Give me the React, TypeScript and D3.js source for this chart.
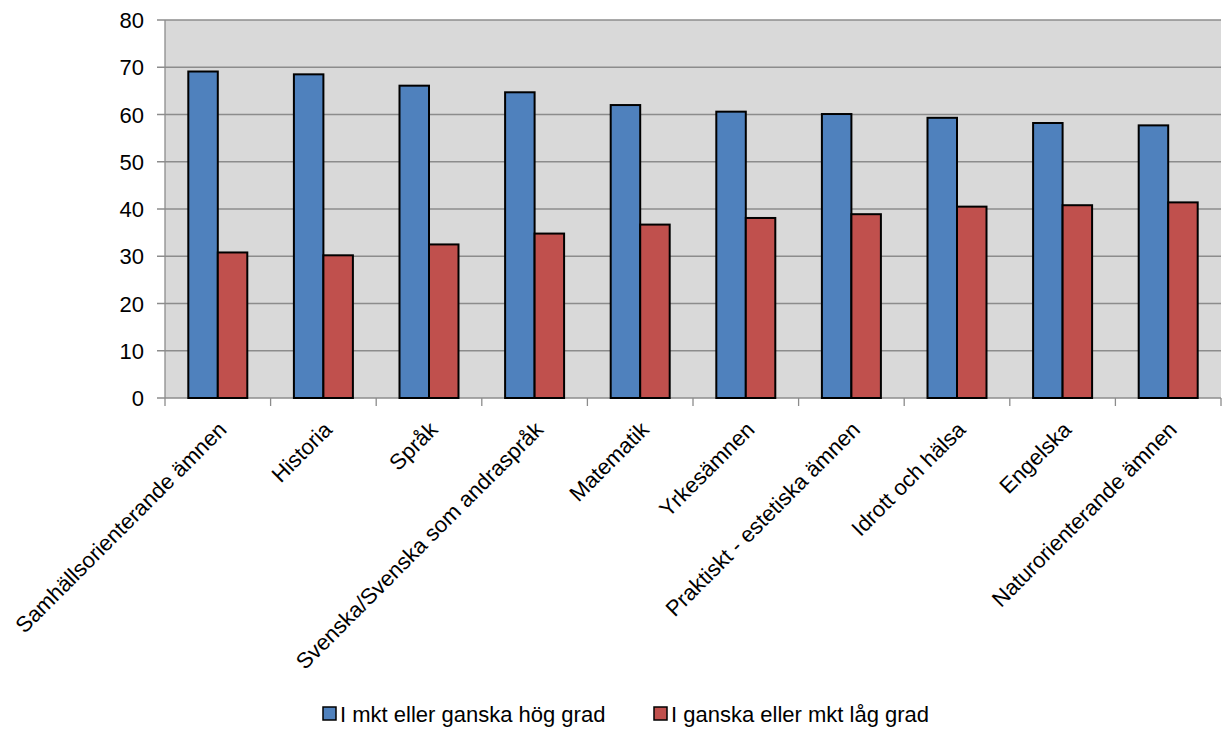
import React from "react";
import * as d3 from "d3";

const categories = [
  "Samhällsorienterande ämnen",
  "Historia",
  "Språk",
  "Svenska/Svenska som andraspråk",
  "Matematik",
  "Yrkesämnen",
  "Praktiskt - estetiska ämnen",
  "Idrott och hälsa",
  "Engelska",
  "Naturorienterande ämnen",
];
const seriesNames = ["I mkt eller ganska hög grad", "I ganska eller mkt låg grad"];
const highValues = [69.1, 68.5, 66.1, 64.7, 62.0, 60.6, 60.1, 59.3, 58.2, 57.7];
const lowValues = [30.8, 30.2, 32.5, 34.8, 36.7, 38.1, 38.9, 40.5, 40.8, 41.4];
const yTicks = [0, 10, 20, 30, 40, 50, 60, 70, 80];
const colors = ["#4f81bd", "#c0504d"];

const W = 1226;
const H = 731;
const left = 165;
const right = 1221;
const top = 20;
const bottom = 398;
const FONT = "'Liberation Sans', Arial, sans-serif";

export default function App() {
  const x = d3.scaleBand<string>().domain(categories).range([left, right]).padding(0);
  const x1 = d3
    .scaleBand<string>()
    .domain(seriesNames)
    .range([0, x.bandwidth()])
    .paddingInner(0)
    .paddingOuter(0.79);
  const y = d3.scaleLinear().domain([0, 80]).range([bottom, top]);
  const series = [highValues, lowValues];

  const boundaries = categories.map((c) => x(c) as number).concat([right]);

  return (
    <svg
      width={W}
      height={H}
      style={{ position: "absolute", left: 0, top: 0, background: "#fff" }}
      fontFamily={FONT}
    >
      <rect x={left} y={top} width={right - left} height={bottom - top} fill="#d9d9d9" />
      {yTicks.map((t) => (
        <g key={t}>
          <line x1={left - 8} x2={right} y1={y(t)} y2={y(t)} stroke="#8c8c8c" strokeWidth={1.3} />
          <text x={144} y={y(t) + 8} textAnchor="end" fontSize={22} fill="#000">
            {t}
          </text>
        </g>
      ))}
      <line x1={left} x2={left} y1={top} y2={bottom} stroke="#8c8c8c" strokeWidth={1.3} />
      {boundaries.map((bx, i) => (
        <line key={i} x1={bx} x2={bx} y1={bottom} y2={bottom + 8} stroke="#8c8c8c" strokeWidth={1.3} />
      ))}
      {categories.map((c, i) => (
        <g key={c}>
          {series.map((vals, s) => (
            <rect
              key={s}
              x={(x(c) as number) + (x1(seriesNames[s]) as number)}
              y={y(vals[i])}
              width={x1.bandwidth()}
              height={bottom - y(vals[i])}
              fill={colors[s]}
              stroke="#000"
              strokeWidth={2}
            />
          ))}
        </g>
      ))}
      {categories.map((c) => {
        const cx = (x(c) as number) + x.bandwidth() / 2 + 10;
        const cy = bottom + 33;
        return (
          <text
            key={c}
            x={cx}
            y={cy}
            textAnchor="end"
            fontSize={22}
            fill="#000"
            transform={`rotate(-45, ${cx}, ${cy})`}
          >
            {c}
          </text>
        );
      })}
      {seriesNames.map((n, s) => {
        const lx = s === 0 ? 323 : 654;
        return (
          <g key={n}>
            <rect x={lx} y={707} width={13} height={13} fill={colors[s]} stroke="#000" strokeWidth={1.5} />
            <text x={lx + 17} y={722} fontSize={22} fill="#000">
              {n}
            </text>
          </g>
        );
      })}
    </svg>
  );
}
